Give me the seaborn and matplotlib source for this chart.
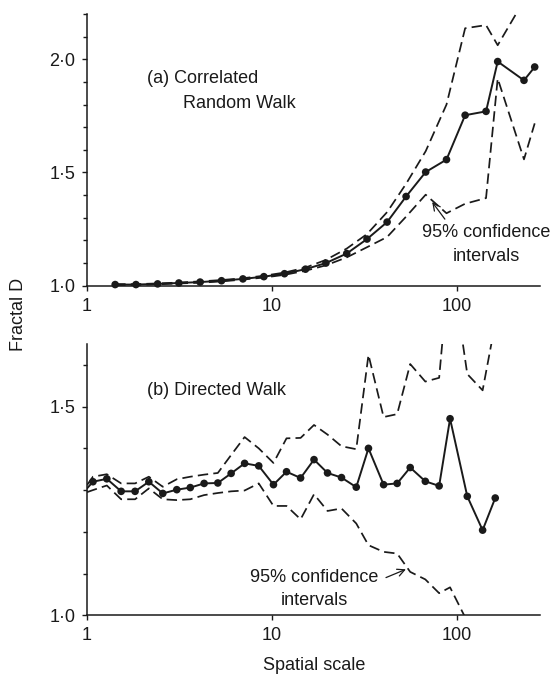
import numpy as np
import pandas as pd
import matplotlib
matplotlib.use("Agg")
import matplotlib.pyplot as plt
from matplotlib.ticker import MultipleLocator, NullLocator, FixedLocator, FixedFormatter
import seaborn as sns

# ---------------- data ----------------
# (a) Correlated random walk
scale_a = [1.42, 1.84, 2.41, 3.14, 4.09, 5.34, 6.97, 9.05, 11.7, 15.2, 19.6,
           25.4, 32.7, 42.0, 53.2, 67.9, 88.0, 111.0, 144.0, 166.5, 231.0, 264.0]
mean_a = [1.005, 1.005, 1.008, 1.012, 1.016, 1.022, 1.030, 1.040, 1.053, 1.073, 1.100,
          1.142, 1.206, 1.281, 1.394, 1.502, 1.557, 1.753, 1.770, 1.990, 1.907, 1.966]
upper_a = [1.007, 1.007, 1.010, 1.014, 1.019, 1.025, 1.033, 1.044, 1.058, 1.080, 1.114,
           1.164, 1.228, 1.325, 1.450, 1.594, 1.800, 2.137, 2.151, 2.062, 2.260, 2.350]
lower_a = [1.003, 1.003, 1.006, 1.010, 1.013, 1.019, 1.027, 1.036, 1.048, 1.066, 1.090,
           1.125, 1.170, 1.215, 1.305, 1.402, 1.320, 1.362, 1.387, 1.915, 1.558, 1.717]

# (b) Directed walk
scale_b = [1.0, 1.077, 1.28, 1.53, 1.82, 2.16, 2.57, 3.06, 3.62, 4.30, 5.10, 6.02,
           7.12, 8.49, 10.2, 12.0, 14.3, 16.9, 20.0, 23.8, 28.6, 33.3, 40.2, 47.6,
           56.0, 67.6, 80.3, 92.0, 114.0, 138.0, 161.5]
mean_b = [1.304, 1.320, 1.327, 1.297, 1.297, 1.320, 1.292, 1.301, 1.306, 1.316, 1.317,
          1.340, 1.364, 1.358, 1.313, 1.344, 1.329, 1.373, 1.341, 1.330, 1.307, 1.400,
          1.313, 1.316, 1.354, 1.321, 1.310, 1.471, 1.285, 1.204, 1.281]
upper_b = [1.312, 1.332, 1.338, 1.316, 1.316, 1.332, 1.308, 1.326, 1.332, 1.337, 1.341,
           1.384, 1.427, 1.400, 1.365, 1.424, 1.425, 1.456, 1.433, 1.405, 1.398, 1.624,
           1.475, 1.482, 1.602, 1.560, 1.569, 1.860, 1.578, 1.539, 1.700]
lower_b = [1.295, 1.300, 1.311, 1.278, 1.278, 1.304, 1.278, 1.276, 1.278, 1.288, 1.293,
           1.297, 1.299, 1.316, 1.262, 1.262, 1.230, 1.290, 1.250, 1.256, 1.220, 1.168,
           1.152, 1.148, 1.104, 1.086, 1.053, 1.067, 0.985, np.nan, np.nan]

x_ticks = [1, 10, 100]
x_tick_labels = ["1", "10", "100"]
y_ticks_a = [1.0, 1.5, 2.0]
y_tick_labels_a = ["1·0", "1·5", "2·0"]
y_ticks_b = [1.0, 1.5]
y_tick_labels_b = ["1·0", "1·5"]

# ---------------- style ----------------
sns.set_style("ticks")
plt.rcParams["font.family"] = ["Liberation Sans", "DejaVu Sans"]
plt.rcParams["font.size"] = 13
INK = "#1a1a1a"

W, H = 552, 676
fig = plt.figure(figsize=(W / 100, H / 100), dpi=100)

def px_axes(left, top, right, bottom):
    return fig.add_axes([left / W, 1 - bottom / H, (right - left) / W, (bottom - top) / H])

ax_a = px_axes(87, 14, 540, 285.7)
ax_b = px_axes(87, 344, 540, 615.3)

dash = (0, (6, 3))

def draw(ax, xs, mean, lo, hi, skip_first):
    df = pd.DataFrame({"scale": xs, "mean": mean, "lo": lo, "hi": hi})
    for col in ("hi", "lo"):
        sub = df[["scale", col]].dropna()
        sns.lineplot(data=sub, x="scale", y=col, ax=ax, color=INK, lw=1.25,
                     linestyle=dash, sort=False, estimator=None)
    sns.lineplot(data=df, x="scale", y="mean", ax=ax, color=INK, lw=1.4,
                 sort=False, estimator=None)
    pts = df.iloc[1:] if skip_first else df
    sns.scatterplot(data=pts, x="scale", y="mean", ax=ax, color=INK, s=30,
                    edgecolor="none", zorder=5, clip_on=False)

draw(ax_a, scale_a, mean_a, lower_a, upper_a, False)
draw(ax_b, scale_b, mean_b, lower_b, upper_b, True)

for ax, ylim, yt, ytl in ((ax_a, (1.0, 2.2), y_ticks_a, y_tick_labels_a),
                          (ax_b, (1.0, 1.65), y_ticks_b, y_tick_labels_b)):
    ax.set_xscale("log")
    ax.set_xlim(1, 282)
    ax.set_ylim(*ylim)
    ax.xaxis.set_major_locator(FixedLocator(x_ticks))
    ax.xaxis.set_major_formatter(FixedFormatter(x_tick_labels))
    ax.xaxis.set_minor_locator(NullLocator())
    ax.yaxis.set_major_locator(FixedLocator(yt))
    ax.yaxis.set_major_formatter(FixedFormatter(ytl))
    ax.yaxis.set_minor_locator(MultipleLocator(0.1))
    ax.set_xlabel("")
    ax.set_ylabel("")
    for s in ("top", "right"):
        ax.spines[s].set_visible(False)
    for s in ("left", "bottom"):
        ax.spines[s].set_color(INK)
        ax.spines[s].set_linewidth(1.1)
    ax.tick_params(axis="both", which="major", length=3.5, width=1.0, color=INK,
                   labelcolor=INK, labelsize=13, pad=5)
    ax.tick_params(axis="y", which="minor", length=3, width=1.0, color=INK)
    ax.set_facecolor("none")

# ---------------- annotations ----------------
def tx(ax, x, y, s, **kw):
    ax.text(x, y, s, transform=ax.transAxes, fontsize=13, color=INK, va="center", **kw)

tx(ax_a, 0.1325, 0.761, "(a) Correlated", ha="left")
tx(ax_a, 0.212, 0.669, "Random Walk", ha="left")
tx(ax_a, 0.881, 0.194, "95% confidence", ha="center")
tx(ax_a, 0.881, 0.106, "intervals", ha="center")
ax_a.annotate("", xy=(0.762, 0.308), xytext=(0.790, 0.245),
              xycoords="axes fraction", textcoords="axes fraction",
              arrowprops=dict(arrowstyle="->", lw=0.9, color=INK,
                              shrinkA=0, shrinkB=0))

tx(ax_b, 0.1325, 0.827, "(b) Directed Walk", ha="left")
tx(ax_b, 0.501, 0.1375, "95% confidence", ha="center")
tx(ax_b, 0.501, 0.054, "intervals", ha="center")
ax_b.annotate("", xy=(0.704, 0.1696), xytext=(0.660, 0.1390),
              xycoords="axes fraction", textcoords="axes fraction",
              arrowprops=dict(arrowstyle="->", lw=0.9, color=INK,
                              shrinkA=0, shrinkB=0))

fig.text(18.3 / W, 1 - 314 / H, "Fractal D", rotation=90, ha="center", va="center",
         fontsize=13, color=INK)
fig.text(314 / W, 1 - 666 / H, "Spatial scale", ha="center", va="center",
         fontsize=13, color=INK)

fig.savefig("out.png", dpi=100, facecolor="white")
